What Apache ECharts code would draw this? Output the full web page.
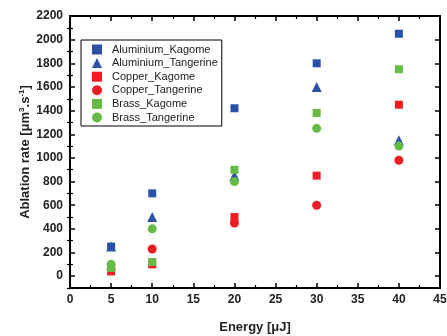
<!DOCTYPE html>
<html><head><meta charset="utf-8">
<script src="https://cdn.jsdelivr.net/npm/echarts@6/dist/echarts.min.js"></script>
<style>html,body{margin:0;padding:0;background:#fff}#c{width:447px;height:336px}</style>
</head><body><div id="c"></div>
<script>
var energy = [5, 10, 20, 30, 40];
var aluminiumKagome = [250, 700, 1420, 1800, 2050];
var aluminiumTangerine = [250, 500, 850, 1600, 1150];
var copperKagome = [40, 100, 500, 850, 1450];
var copperTangerine = [60, 230, 450, 600, 980];
var brassKagome = [70, 120, 900, 1380, 1750];
var brassTangerine = [100, 400, 800, 1250, 1100];
var seriesNames = ['Aluminium_Kagome','Aluminium_Tangerine','Copper_Kagome','Copper_Tangerine','Brass_Kagome','Brass_Tangerine'];
var seriesValues = [aluminiumKagome, aluminiumTangerine, copperKagome, copperTangerine, brassKagome, brassTangerine];
var yTickLabels = [0,200,400,600,800,1000,1200,1400,1600,1800,2000,2200];
var yMinorTicks = [-100,100,300,500,700,900,1100,1300,1500,1700,1900,2100];

var colors = ['#2b52a6','#2b52a6','#ee1d25','#ee1d25','#66bb46','#66bb46'];
var symbols = ['rect','triangle','rect','circle','rect','circle'];
var sizes = [8,10,8,9,8,9];

var font = 'Liberation Sans, Arial, sans-serif';
function pairs(v){ return energy.map(function(e,i){ return [e, v[i]]; }); }
var lineS = {show:true, onZero:false, lineStyle:{color:'#000', width:2}};
var xCommon = {
  axisLine:lineS,
  axisTick:{show:true, inside:true, length:5, lineStyle:{color:'#000', width:1.5}},
  minorTick:{show:true, splitNumber:2, length:3, lineStyle:{color:'#000', width:1.2}},
  splitLine:{show:false}
};
function yAx(pos, withLabels){
  return {type:'value', min:-100, max:2200, position:pos,
    axisLine:lineS,
    axisTick:{show:true, inside:true, length:5, customValues:yTickLabels, lineStyle:{color:'#000', width:1.5}},
    splitLine:{show:false},
    axisLabel:{show:withLabels, customValues:yTickLabels, fontFamily:font, fontSize:12, fontWeight:'bold', color:'#222', margin:7,
      formatter:function(v){ return String(v); }}
  };
}
function yMinor(pos){
  return {type:'value', min:-100, max:2200, position:pos,
    axisLine:{show:false},
    axisTick:{show:true, inside:true, length:3, customValues:yMinorTicks, lineStyle:{color:'#000', width:1.2}},
    axisLabel:{show:false}, splitLine:{show:false}};
}
var yLeft = yAx('left', true);
yLeft.name = '{a|Ablation rate [μm}{s|3}{a|.s}{s|-1}{a|]}';
yLeft.nameLocation = 'middle';
yLeft.nameGap = 37;
yLeft.nameMoveOverlap = false;
yLeft.nameTextStyle = {rich:{
  a:{fontFamily:font, fontSize:13, fontWeight:'bold', color:'#222'},
  s:{fontFamily:font, fontSize:8, fontWeight:'bold', color:'#222', padding:[0,0,7,0]}
}};

var chart = echarts.init(document.getElementById('c'));
chart.setOption({
  animation:false,
  backgroundColor:'#fff',
  grid:{left:70, right:7, top:16, bottom:48, outerBoundsMode:'none', containLabel:false},
  legend:{
    orient:'vertical', left:81, top:40,
    data: seriesNames,
    borderColor:'#000', borderWidth:1,
    padding:[4,4,3,11],
    itemWidth:10, itemHeight:10, itemGap:2.6,
    textStyle:{fontFamily:font, fontSize:11, color:'#222', padding:[0,0,0,5]}
  },
  xAxis:[
    Object.assign({type:'value', min:0, max:45, interval:5, position:'bottom',
      name:'Energy [μJ]', nameLocation:'middle', nameGap:33, nameMoveOverlap:false,
      nameTextStyle:{fontFamily:font, fontSize:13, fontWeight:'bold', color:'#222'},
      axisLabel:{fontFamily:font, fontSize:12, fontWeight:'bold', color:'#222', margin:6}
    }, xCommon),
    Object.assign({type:'value', min:0, max:45, interval:5, position:'top', axisLabel:{show:false}}, xCommon)
  ],
  yAxis:[ yLeft, yAx('right', false), yMinor('left'), yMinor('right') ],
  series: seriesNames.map(function(n,i){
    return {name:n, type:'scatter', data:pairs(seriesValues[i]), symbol:symbols[i], symbolSize:sizes[i],
      itemStyle:{color:colors[i], opacity:1}, xAxisIndex:0, yAxisIndex:0};
  })
});
</script></body></html>
